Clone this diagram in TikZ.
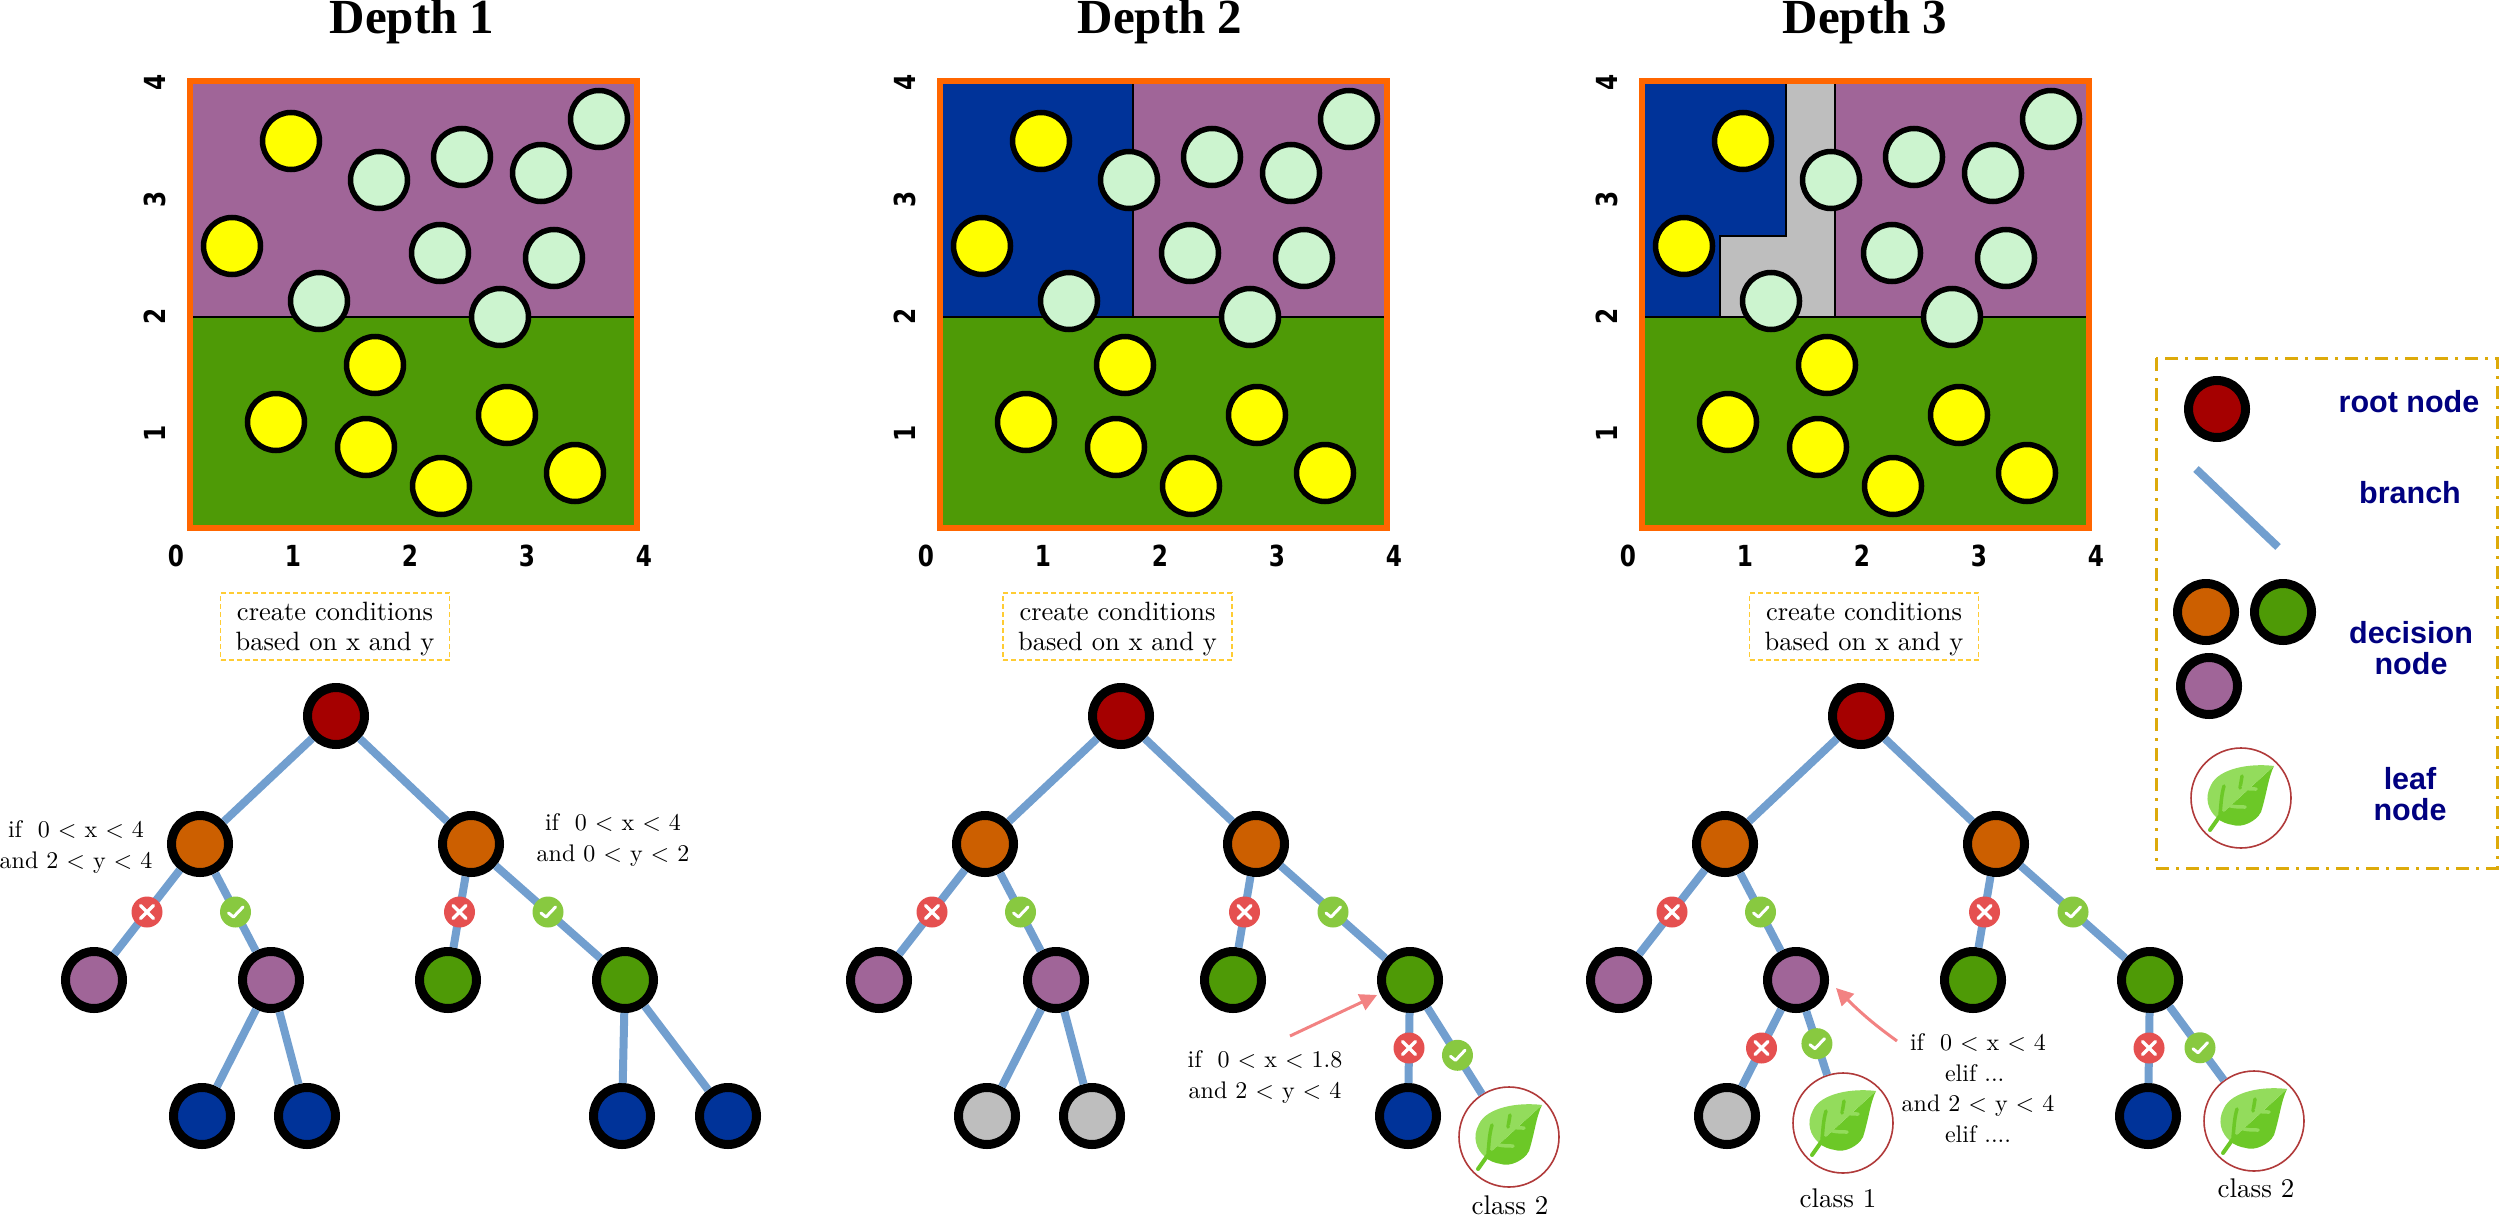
\documentclass[tikz,border=0pt]{standalone}
\usepackage{fontspec}
\usetikzlibrary{arrows.meta,bending}
\setmainfont{lmroman10-regular}[Extension=.otf]
\newfontfamily\titlefont{Liberation Serif}
\newfontfamily\legendfont{Liberation Sans}
\newfontfamily\axisfont[FakeStretch=0.8]{DejaVu Sans}
\definecolor{cRed}{HTML}{A50000}
\definecolor{cOrange}{HTML}{CC5F00}
\definecolor{cGreen}{HTML}{4E9A06}
\definecolor{cPurple}{HTML}{A06598}
\definecolor{cBlue}{HTML}{003399}
\definecolor{cGray}{HTML}{BEBEBE}
\definecolor{cMint}{HTML}{CCF4CF}
\definecolor{cYellow}{HTML}{FFFF00}
\definecolor{cFrame}{HTML}{FF6600}
\definecolor{cBranch}{HTML}{729FCF}
\definecolor{cBox}{HTML}{FFCC33}
\definecolor{cLegend}{HTML}{DDAA0A}
\definecolor{cArrow}{HTML}{F28282}
\definecolor{cNavy}{HTML}{000080}
\definecolor{cLeafA}{HTML}{6CC827}
\definecolor{cLeafB}{HTML}{93DC5C}
\definecolor{cRing}{HTML}{B03A3A}
\definecolor{cBadX}{HTML}{E55050}
\definecolor{cBadC}{HTML}{88C940}
\tikzset{
  treenode/.style={circle,draw=black,line width=9pt,minimum size=57pt,inner sep=0pt},
  branch/.style={draw=cBranch,line width=8pt},
  ptY/.style={draw=black,line width=5.5pt,fill=cYellow},
  ptM/.style={draw=black,line width=5.5pt,fill=cMint},
  regline/.style={draw=black,line width=2.6pt},
  titlelab/.style={font=\titlefont\bfseries\fontsize{49}{52}\selectfont,inner sep=0pt},
  axislab/.style={font=\axisfont\bfseries\fontsize{29}{30}\selectfont,inner sep=0pt},
  condbox/.style={draw=cBox,line width=1.6pt,dash pattern=on 5pt off 3pt,minimum width=229pt,minimum height=67pt,inner sep=0pt,align=center,font=\fontsize{26.5}{30}\selectfont},
  treetext/.style={align=center,inner sep=0pt,font=\fontsize{24}{30.5}\selectfont},
  classtext/.style={inner sep=0pt,font=\fontsize{27}{30}\selectfont},
  legtext/.style={align=center,inner sep=0pt,text=cNavy,font=\legendfont\bfseries\fontsize{30.5}{31}\selectfont},
  ring/.style={circle,draw=cRing,line width=1.6pt,minimum size=100pt,inner sep=0pt,fill=white},
  pointer/.style={draw=cArrow,line width=3pt,-{Triangle[length=17pt,width=17pt,fill=cArrow]}},
  badgex/.style={circle,fill=cBadX,minimum size=31pt,inner sep=0pt,
    path picture={\draw[white,line width=3.4pt,line cap=round,shift={(path picture bounding box.center)}]
      (-6.5,-6.5)--(6.5,6.5) (-6.5,6.5)--(6.5,-6.5);}},
  badgec/.style={circle,fill=cBadC,minimum size=31pt,inner sep=0pt,
    path picture={\draw[white,line width=3pt,line cap=round,line join=round,shift={(path picture bounding box.center)}]
      (-7,1)--(-2,5)--(7.5,-5);}},
  leafmark/.pic={
    \fill[cLeafA] (33,-32) .. controls (27,-20) and (26,-5) .. (20,14) .. controls (15,24) and (0,30) .. (-8,27) .. controls (-14,26) and (-20,24) .. (-24,20) -- cycle;
    \fill[cLeafB] (33,-32) .. controls (10,-35) and (-22,-30) .. (-30,-13) .. controls (-37,0) and (-33,12) .. (-24,20) -- cycle;
    \draw[cLeafA,line width=4pt,line cap=round] (-19,15) -- (-31,32);
    \draw[cLeafA,line width=3.5pt,line cap=round] (-17,-12) .. controls (-20,-2) and (-20,8) .. (-21,16);
    \draw[cLeafA,line width=3.5pt,line cap=round] (1,-22) -- (-1,-10);
    \draw[cLeafB,line width=3.5pt,line cap=round] (-16,6) .. controls (-10,9) and (-3,9) .. (4,9);
    \draw[cLeafB,line width=3.5pt,line cap=round] (2,-11) .. controls (6,-9) and (10,-9) .. (15,-9);
  }
}
% common part of a panel: frame, ticks and data points are drawn over the given regions
\newcommand{\panelpoints}[2]{%
  \begin{scope}[shift={(#1,78)}]
    \draw[cFrame,line width=6pt] (3,3) rectangle (450,450);
    \foreach \px/\py in {104/63,45/168,188/287,89/344,179/369,254/408,320/337,388/395}
      \draw[ptY] (\px,\py) circle[radius=28.5pt];
    \foreach \px/\py in {192/102,275/79,354/95,412/41,253/175,367/180,132/223,313/239}
      \draw[ptM] (\px,\py) circle[radius=28.5pt];
    \foreach \k in {0,...,4}
      \node[axislab] (#2-xt\k) at ({-11+117*\k},478) {\k};
    \foreach \k in {1,...,4}
      \node[axislab,rotate=90] (#2-yt\k) at (-32,{472-117*\k}) {\k};
  \end{scope}}
% common upper part of a tree; #2 is the horizontal shift
\newcommand{\treetop}[2]{%
  \begin{scope}[shift={(#2,0)}]
    \node[treenode,fill=cRed] (#1-root) at (336,716) {};
    \node[treenode,fill=cOrange] (#1-L) at (200,844) {};
    \node[treenode,fill=cOrange] (#1-R) at (471,844) {};
    \node[treenode,fill=cPurple] (#1-LL) at (94,980) {};
    \node[treenode,fill=cPurple] (#1-LR) at (271,980) {};
    \node[treenode,fill=cGreen] (#1-RL) at (448,980) {};
    \node[treenode,fill=cGreen] (#1-RR) at (625,980) {};
    \draw[branch] (#1-root) -- (#1-L);
    \draw[branch] (#1-root) -- (#1-R);
    \draw[branch] (#1-L) -- node[badgex] (#1-b1) {} (#1-LL);
    \draw[branch] (#1-L) -- node[badgec] (#1-b2) {} (#1-LR);
    \draw[branch] (#1-R) -- node[badgex] (#1-b3) {} (#1-RL);
    \draw[branch] (#1-R) -- node[badgec] (#1-b4) {} (#1-RR);
  \end{scope}}
\begin{document}
\begin{tikzpicture}[x=1pt,y=-1pt]
\useasboundingbox (0,0) rectangle (2500,1215);
% titles
\node[titlelab,anchor=base] (t1) at (412,34) {Depth 1};
\node[titlelab,anchor=base] (t2) at (1160,34) {Depth 2};
\node[titlelab,anchor=base] (t3) at (1865,34) {Depth 3};
% panel 1
\begin{scope}[shift={(187,78)}]
  \fill[cPurple] (3,3) rectangle (450,239);
  \fill[cGreen] (3,239) rectangle (450,450);
  \draw[regline] (6,239) -- (447,239);
\end{scope}
\panelpoints{187}{p}
% panel 2
\begin{scope}[shift={(937,78)}]
  \fill[cPurple] (196,3) rectangle (450,239);
  \fill[cBlue] (3,3) rectangle (196,239);
  \fill[cGreen] (3,239) rectangle (450,450);
  \draw[regline] (6,239) -- (447,239);
  \draw[regline] (196,6) -- (196,239);
\end{scope}
\panelpoints{937}{q}
% panel 3
\begin{scope}[shift={(1639,78)}]
  \fill[cPurple] (196,3) rectangle (450,239);
  \fill[cBlue] (3,3) rectangle (196,239);
  \fill[cGray] (147,3) -- (147,158) -- (81,158) -- (81,239) -- (196,239) -- (196,3) -- cycle;
  \fill[cGreen] (3,239) rectangle (450,450);
  \draw[regline] (6,239) -- (447,239);
  \draw[regline] (196,6) -- (196,239);
  \draw[regline] (147,6) -- (147,158) -- (81,158) -- (81,239);
\end{scope}
\panelpoints{1639}{r}
% condition boxes
\node[condbox] (c1) at (335,626.5) {\rule{0pt}{23pt}create conditions\\based on x and y};
\node[condbox] (c2) at (1117.5,626.5) {\rule{0pt}{23pt}create conditions\\based on x and y};
\node[condbox] (c3) at (1864,626.5) {\rule{0pt}{23pt}create conditions\\based on x and y};
% tree 1
\treetop{a}{0}
\node[treenode,fill=cBlue] (a-m1) at (202,1116) {};
\node[treenode,fill=cBlue] (a-m2) at (307,1116) {};
\node[treenode,fill=cBlue] (a-m3) at (622,1116) {};
\node[treenode,fill=cBlue] (a-m4) at (728,1116) {};
\draw[branch] (a-LR) -- (a-m1);
\draw[branch] (a-LR) -- (a-m2);
\draw[branch] (a-RR) -- (a-m3);
\draw[branch] (a-RR) -- (a-m4);
\node[treetext] (a-t1) at (76,847) {if\ \ 0 < x < 4\\and 2 < y < 4};
\node[treetext] (a-t2) at (613,840) {if\ \ 0 < x < 4\\and 0 < y < 2};
% tree 2
\treetop{b}{785}
\node[treenode,fill=cGray] (b-m1) at (987,1116) {};
\node[treenode,fill=cGray] (b-m2) at (1092,1116) {};
\node[treenode,fill=cBlue] (b-m3) at (1408,1116) {};
\node[ring] (b-leaf) at (1509,1137) {};
\pic at (b-leaf) {leafmark};
\draw[branch] (b-LR) -- (b-m1);
\draw[branch] (b-LR) -- (b-m2);
\draw[branch] (b-RR) -- node[badgex] (b-b5) {} (b-m3);
\draw[branch] (b-RR) -- node[badgec,pos=.55] (b-b6) {} (b-leaf);
\node[treetext] (b-t1) at (1265,1077) {if\ \ 0 < x < 1.8\\and 2 < y < 4};
\coordinate (b-tail) at (1290,1036);
\coordinate (b-head) at (1377,995);
\draw[pointer] (b-tail) -- (b-head);
\node[classtext] (b-cl) at (1510,1205) {class 2};
% tree 3
\treetop{d}{1525}
\node[treenode,fill=cGray] (d-m1) at (1727,1116) {};
\node[ring] (d-leaf1) at (1843,1123) {};
\pic at (d-leaf1) {leafmark};
\node[treenode,fill=cBlue] (d-m3) at (2148,1116) {};
\node[ring] (d-leaf2) at (2254,1121) {};
\pic at (d-leaf2) {leafmark};
\draw[branch] (d-LR) -- node[badgex] (d-b5) {} (d-m1);
\draw[branch] (d-LR) -- node[badgec,pos=.51] (d-b6) {} (d-leaf1);
\draw[branch] (d-RR) -- node[badgex] (d-b7) {} (d-m3);
\draw[branch] (d-RR) -- node[badgec,pos=.56] (d-b8) {} (d-leaf2);
\node[treetext] (d-t1) at (1978,1088) {if\ \ 0 < x < 4\\elif ...\phantom{.}\\and 2 < y < 4\\elif ....};
\coordinate (d-tail) at (1897,1041);
\coordinate (d-head) at (1836,988);
\draw[pointer] (d-tail) to[bend left=5] (d-head);
\node[classtext] (d-cl1) at (1838,1198) {class 1};
\node[classtext] (d-cl2) at (2256,1188) {class 2};
% legend
\draw[cLegend,line width=3pt,dash pattern=on 13pt off 7pt on 3pt off 7pt] (2156,358) rectangle (2497,868);
\node[treenode,fill=cRed] (l-root) at (2217,409) {};
\coordinate (l-b1) at (2196,469);
\coordinate (l-b2) at (2278,547);
\draw[branch] (l-b1) -- (l-b2);
\node[treenode,fill=cOrange] (l-o) at (2206,612) {};
\node[treenode,fill=cGreen] (l-g) at (2283,612) {};
\node[treenode,fill=cPurple] (l-p) at (2209,686) {};
\node[ring] (l-leaf) at (2241,798) {};
\pic at (l-leaf) {leafmark};
\node[legtext] (l-t1) at (2409,402) {root node};
\node[legtext] (l-t2) at (2410,493) {branch};
\node[legtext] (l-t3) at (2411,648) {decision\\node};
\node[legtext] (l-t4) at (2410,794) {leaf\\node};
\end{tikzpicture}
\end{document}
